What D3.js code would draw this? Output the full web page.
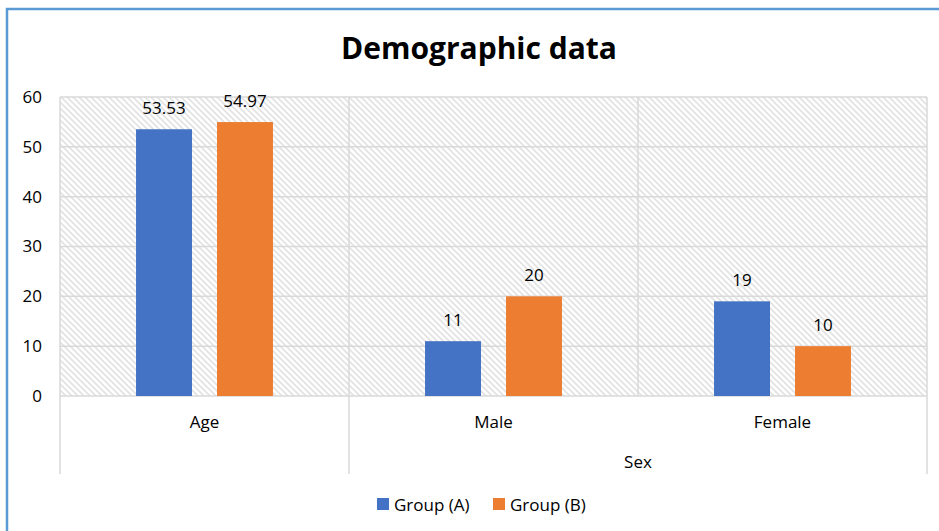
<!DOCTYPE html>
<html>
<head>
<meta charset="utf-8">
<script src="https://cdn.jsdelivr.net/npm/d3@7"></script>
<style>
  html, body { margin: 0; padding: 0; background: #fff; }
  svg { display: block; font-family: "Open Sans", "Noto Sans", sans-serif; }
</style>
</head>
<body>
<svg id="chart" width="939" height="531"></svg>
<script>
// Demographic data for the two study groups
const categories = ["Age", "Male", "Female"];
const groupA = [53.53, 11, 19];
const groupB = [54.97, 20, 10];
const seriesNames = ["Group (A)", "Group (B)"];
const seriesColors = ["#4472c4", "#ed7d31"];
const yTicks = [0, 10, 20, 30, 40, 50, 60];
const parentLabel = "Sex";          // spans Male and Female
const parentMembers = ["Male", "Female"];

const svg = d3.select("#chart");
const W = 939, H = 531;
const margin = { left: 60, right: 12, top: 97, bottom: 135 };
const plotRight = W - margin.right;
const plotBottom = H - margin.bottom;
const labelSize = 17;

// Hatched plot background
const defs = svg.append("defs");
const pat = defs.append("pattern")
  .attr("id", "hatch")
  .attr("patternUnits", "userSpaceOnUse")
  .attr("width", 6).attr("height", 6);
pat.append("rect").attr("width", 6).attr("height", 6).attr("fill", "#ffffff");
pat.append("path")
  .attr("d", "M-1,-1 L7,7 M-7,-1 L1,7 M5,-1 L13,7")
  .attr("stroke", "#e2e2e2").attr("stroke-width", 1.6);

// Outer chart frame
svg.append("rect")
  .attr("x", 7).attr("y", 9)
  .attr("width", W + 20).attr("height", H + 20)
  .attr("fill", "none").attr("stroke", "#5b9bd5").attr("stroke-width", 2.5);

// Scales
const x = d3.scaleBand().domain(categories).range([margin.left, plotRight]).padding(0);
const xs = d3.scaleBand().domain(seriesNames).range([0, x.bandwidth()])
  .paddingInner(0.309).paddingOuter(0.939);
const y = d3.scaleLinear().domain([0, 60]).range([plotBottom, margin.top]);

svg.append("rect")
  .attr("x", margin.left).attr("y", margin.top)
  .attr("width", plotRight - margin.left).attr("height", plotBottom - margin.top)
  .attr("fill", "url(#hatch)");

const gridColor = "#d9d9d9";

// Horizontal gridlines
svg.append("g").selectAll("line").data(yTicks).join("line")
  .attr("x1", margin.left).attr("x2", plotRight)
  .attr("y1", d => y(d)).attr("y2", d => y(d))
  .attr("stroke", gridColor).attr("stroke-width", 1.5);

// Vertical category dividers inside the plot
const edges = categories.map(c => x(c)).concat([plotRight]);
svg.append("g").selectAll("line").data(edges).join("line")
  .attr("x1", d => d).attr("x2", d => d)
  .attr("y1", margin.top).attr("y2", plotBottom)
  .attr("stroke", gridColor).attr("stroke-width", 1.5);

// Multi-level axis dividers below the plot
const labelBottom = 474;
const outerEdges = [x("Age"), x(parentMembers[0]), plotRight];
svg.append("g").selectAll("line").data(outerEdges).join("line")
  .attr("x1", d => d).attr("x2", d => d)
  .attr("y1", plotBottom).attr("y2", labelBottom)
  .attr("stroke", gridColor).attr("stroke-width", 1.5);

// Y axis labels
const yAxis = d3.axisLeft(y).tickValues(yTicks).tickSize(0).tickPadding(18);
const gy = svg.append("g").attr("transform", `translate(${margin.left},0)`).call(yAxis);
gy.select(".domain").remove();
gy.selectAll("text").attr("font-size", labelSize).attr("fill", "#000")
  .attr("font-family", "'Open Sans', sans-serif");

// Bars
const rows = categories.map((c, i) => ({ cat: c, vals: [groupA[i], groupB[i]] }));
const groups = svg.append("g").selectAll("g").data(rows).join("g")
  .attr("transform", d => `translate(${x(d.cat)},0)`);
groups.selectAll("rect").data(d => d.vals.map((v, j) => ({ v, s: seriesNames[j], c: seriesColors[j] })))
  .join("rect")
  .attr("x", d => xs(d.s)).attr("width", xs.bandwidth())
  .attr("y", d => y(d.v)).attr("height", d => y(0) - y(d.v))
  .attr("fill", d => d.c);
groups.selectAll("text").data(d => d.vals.map((v, j) => ({ v, s: seriesNames[j] })))
  .join("text")
  .attr("x", d => xs(d.s) + xs.bandwidth() / 2)
  .attr("y", d => y(d.v) - 15)
  .attr("text-anchor", "middle").attr("font-size", labelSize).attr("fill", "#000")
  .text(d => d.v);

// Category labels
svg.append("g").selectAll("text").data(categories).join("text")
  .attr("x", d => x(d) + x.bandwidth() / 2).attr("y", 428)
  .attr("text-anchor", "middle").attr("font-size", labelSize).attr("fill", "#000")
  .text(d => d);

// Parent label for Male/Female
svg.append("text")
  .attr("x", (x(parentMembers[0]) + plotRight) / 2).attr("y", 468)
  .attr("text-anchor", "middle").attr("font-size", labelSize).attr("fill", "#000")
  .text(parentLabel);

// Title
svg.append("text")
  .attr("x", 479).attr("y", 59)
  .attr("text-anchor", "middle").attr("font-size", 30).attr("font-weight", "bold").attr("fill", "#000")
  .text("Demographic data");

// Legend
const legendX = [377, 493];
const lg = svg.append("g").selectAll("g").data(seriesNames).join("g")
  .attr("transform", (d, i) => `translate(${legendX[i]},498)`);
lg.append("rect").attr("width", 12).attr("height", 12).attr("fill", (d, i) => seriesColors[i]);
lg.append("text").attr("x", 17).attr("y", 12.5)
  .attr("font-size", labelSize).attr("fill", "#000").text(d => d);
</script>
</body>
</html>
